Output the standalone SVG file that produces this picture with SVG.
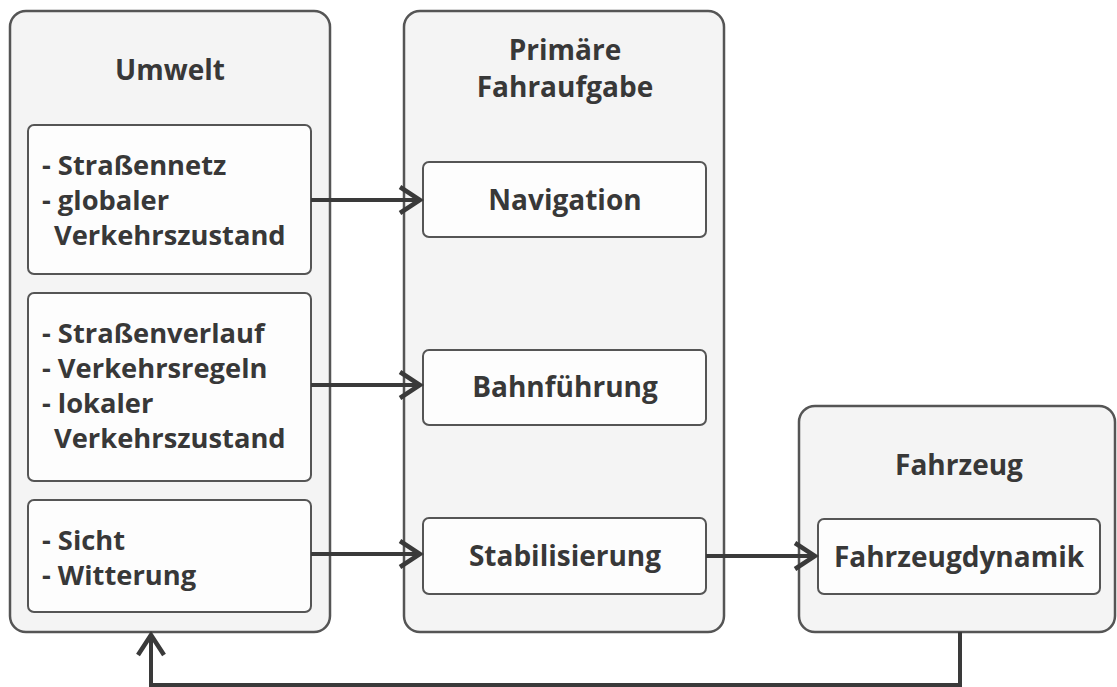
<svg xmlns="http://www.w3.org/2000/svg" width="1117" height="687" viewBox="0 0 1117 687">
  <style>
    .outer { fill: #f4f4f4; stroke: #555; stroke-width: 2.5; }
    .inner { fill: #fdfdfd; stroke: #555; stroke-width: 2; }
    text { font-family: "Open Sans", "Noto Sans", "DejaVu Sans", sans-serif; font-weight: bold; fill: #383838; }
    .title { font-size: 28px; text-anchor: middle; }
    .label { font-size: 28px; text-anchor: middle; }
    .list { font-size: 27.3px; }
    .conn { fill: none; stroke: #3a3a3a; stroke-width: 4; }
  </style>
  <defs>
    <marker id="chev" viewBox="0 0 28 32" refX="25" refY="16" markerWidth="28" markerHeight="32" markerUnits="userSpaceOnUse" orient="auto">
      <path d="M4,3 L24,16 L4,29" fill="none" stroke="#3a3a3a" stroke-width="4.5"/>
    </marker>
  </defs>
  <rect width="1117" height="687" fill="#ffffff"/>

  <g id="umwelt">
    <rect class="outer" x="10" y="11" width="320" height="621" rx="16"/>
    <text class="title" x="170" y="80">Umwelt</text>
    <g id="umwelt-global">
      <rect class="inner" x="28" y="125" width="283" height="149" rx="6"/>
      <text class="list" x="42" y="175">- Straßennetz</text>
      <text class="list" x="42" y="210">- globaler</text>
      <text class="list" x="54" y="245">Verkehrszustand</text>
    </g>
    <g id="umwelt-lokal">
      <rect class="inner" x="28" y="293" width="283" height="188" rx="6"/>
      <text class="list" x="42" y="343">- Straßenverlauf</text>
      <text class="list" x="42" y="378">- Verkehrsregeln</text>
      <text class="list" x="42" y="413">- lokaler</text>
      <text class="list" x="54" y="448">Verkehrszustand</text>
    </g>
    <g id="umwelt-wetter">
      <rect class="inner" x="28" y="500" width="283" height="112" rx="6"/>
      <text class="list" x="42" y="550">- Sicht</text>
      <text class="list" x="42" y="585">- Witterung</text>
    </g>
  </g>

  <g id="fahraufgabe">
    <rect class="outer" x="404" y="11" width="320" height="621" rx="16"/>
    <text class="title" x="565" y="60">Primäre</text>
    <text class="title" x="565" y="97">Fahraufgabe</text>
    <g id="navigation">
      <rect class="inner" x="423" y="162" width="283" height="75" rx="6"/>
      <text class="label" x="565" y="210">Navigation</text>
    </g>
    <g id="bahnfuehrung">
      <rect class="inner" x="423" y="350" width="283" height="75" rx="6"/>
      <text class="label" x="565" y="397">Bahnführung</text>
    </g>
    <g id="stabilisierung">
      <rect class="inner" x="423" y="518" width="283" height="76" rx="6"/>
      <text class="label" x="565" y="566">Stabilisierung</text>
    </g>
  </g>

  <g id="fahrzeug">
    <rect class="outer" x="799" y="406" width="316" height="226" rx="16"/>
    <text class="title" x="959" y="475">Fahrzeug</text>
    <g id="fahrzeugdynamik">
      <rect class="inner" x="818" y="519" width="282" height="75" rx="6"/>
      <text class="label" x="959" y="567">Fahrzeugdynamik</text>
    </g>
  </g>

  <g id="connectors">
    <path class="conn" d="M311,200 L421,200" marker-end="url(#chev)"/>
    <path class="conn" d="M311,385 L421,385" marker-end="url(#chev)"/>
    <path class="conn" d="M311,554 L421,554" marker-end="url(#chev)"/>
    <path class="conn" d="M706,556 L816,556" marker-end="url(#chev)"/>
    <path class="conn" d="M960,632 L960,685 L151,685 L151,634" marker-end="url(#chev)"/>
  </g>
</svg>
